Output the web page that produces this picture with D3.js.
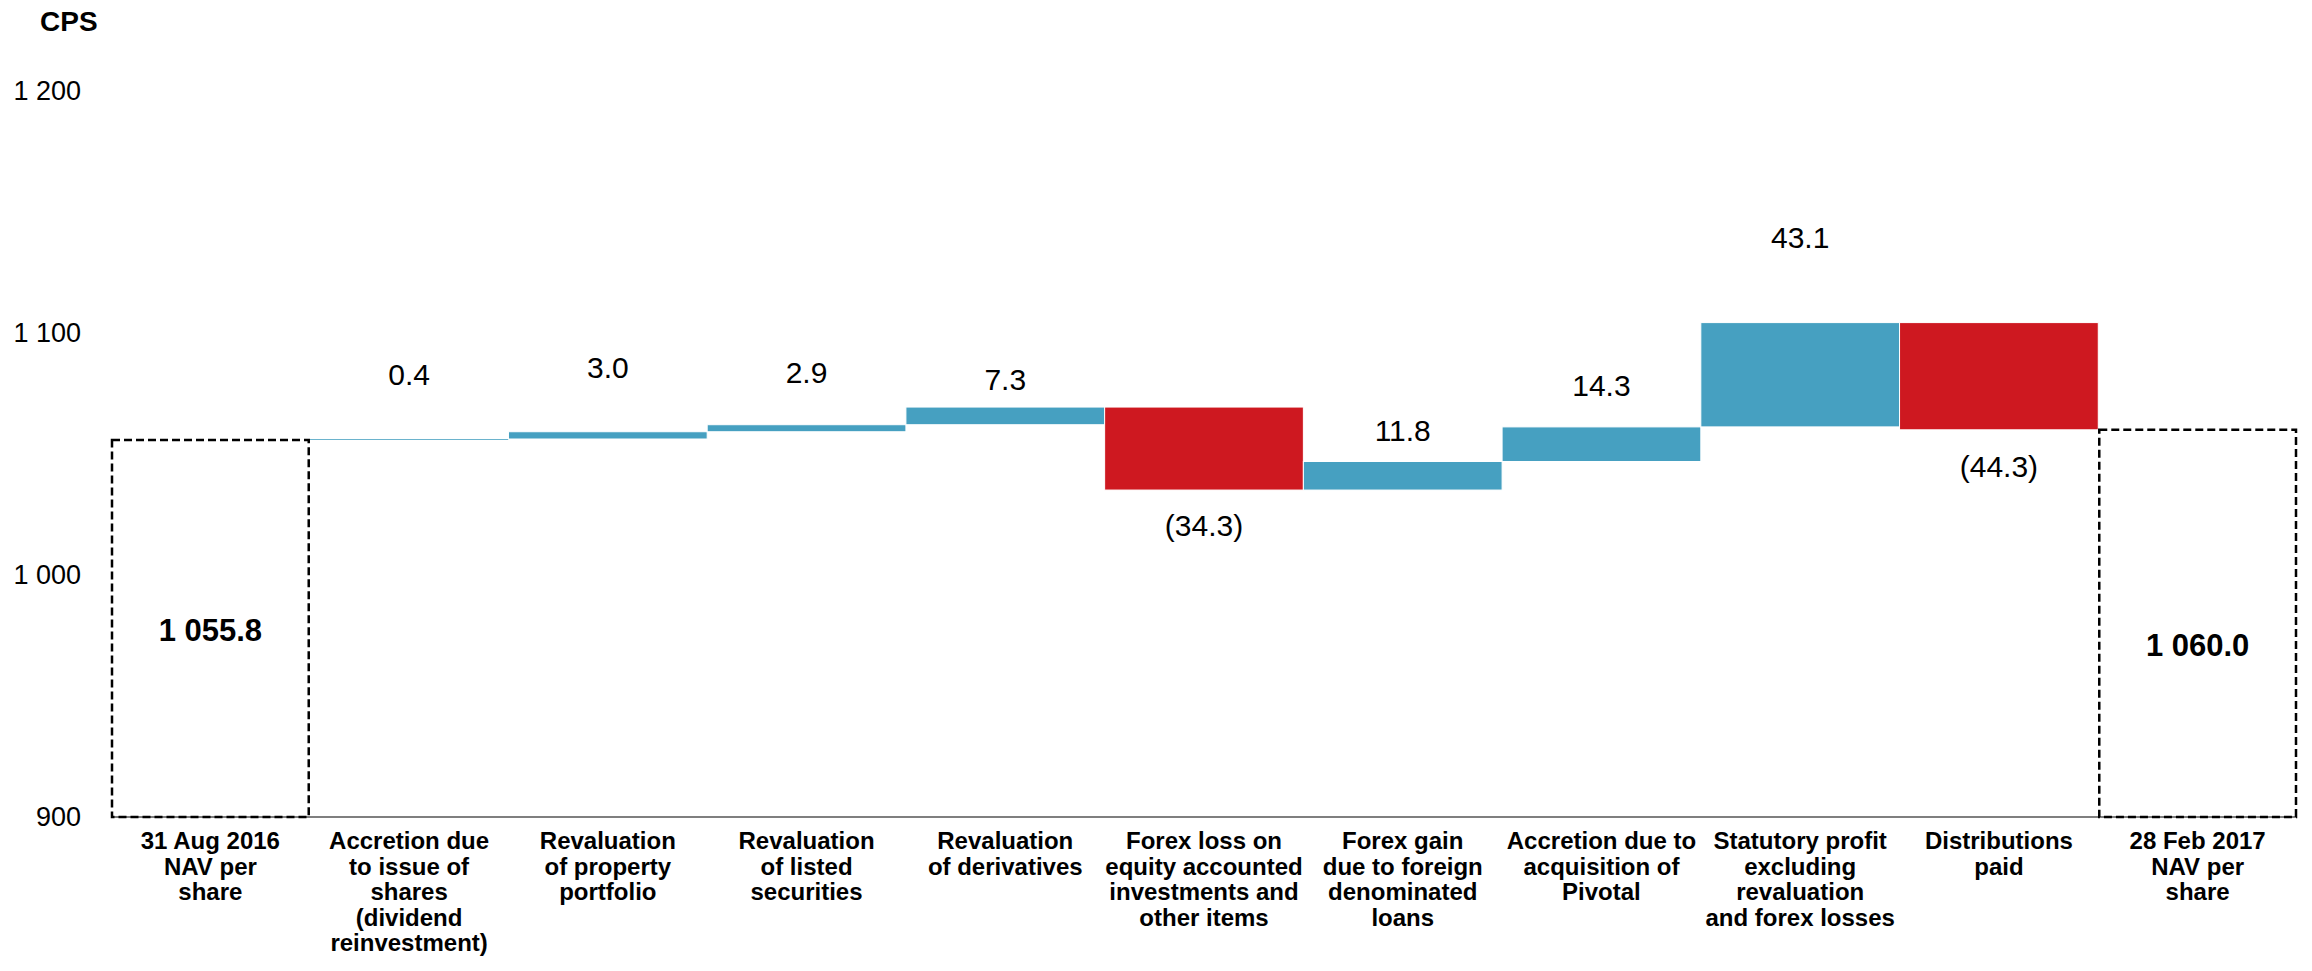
<!doctype html>
<html>
<head>
    <meta charset="utf-8"/>
    <style>
        html, body {
            margin: 0px;
            background: #fff;
        }
        svg {
            display: block;
            font-family: Arial, 'Liberation Sans', sans-serif;
        }
    </style>
    <script src="https://cdn.jsdelivr.net/npm/d3@7"></script>
</head>
<body>

<svg id="chart" width="2312" height="971"></svg>

<script>

    // --- DATA --- //
    var categories = [
        "31 Aug 2016\nNAV per\nshare",
        "Accretion due\nto issue of\nshares\n(dividend\nreinvestment)",
        "Revaluation\nof property\nportfolio",
        "Revaluation\nof listed\nsecurities",
        "Revaluation\nof derivatives",
        "Forex loss on\nequity accounted\ninvestments and\nother items",
        "Forex gain\ndue to foreign\ndenominated\nloans",
        "Accretion due to\nacquisition of\nPivotal",
        "Statutory profit\nexcluding\nrevaluation\nand forex losses",
        "Distributions\npaid",
        "28 Feb 2017\nNAV per\nshare"
    ];
    var openingNav = 1055.8;
    var movements = [0.4, 3.0, 2.9, 7.3, -34.3, 11.8, 14.3, 43.1, -44.3];
    var closingNav = 1060.0;
    var yTicks = [900, 1000, 1100, 1200];

    // label gaps from the bar edge (px), as placed by hand in the original
    var LABEL_GAP = [2, 64, 64, 52, 28, 35, 31, 41, 85, 37, 22];

    var BLUE = "#46a0c1";
    var RED = "#ce1820";

    var svg = d3.select("#chart");

    var x = d3.scaleBand()
        .domain(d3.range(categories.length))
        .range([111, 2297])
        .padding(0);
    var y = d3.scaleLinear().domain([900, 1200]).range([817, 91]);

    var locale = d3.formatLocale({decimal: ".", thousands: " ", grouping: [3], currency: ["", ""]});
    var fmtTick = locale.format(",.0f");
    var fmtTotal = locale.format(",.1f");
    var fmtMove = d3.format(".1f");

    // build waterfall steps
    var steps = [];
    var running = openingNav;
    steps.push({i: 0, type: "total", from: 900, to: openingNav, value: openingNav});
    movements.forEach(function(m, k) {
        steps.push({i: k + 1, type: m >= 0 ? "up" : "down", from: running, to: running + m, value: m});
        running += m;
    });
    steps.push({i: categories.length - 1, type: "total", from: 900, to: closingNav, value: closingNav});

    // --- AXIS TEXT --- //
    svg.append("text")
        .attr("x", 40)
        .attr("y", 31)
        .style("font-size", "28px")
        .style("font-weight", "bold")
        .text("CPS");

    svg.append("g").selectAll("text")
        .data(yTicks)
        .enter().append("text")
        .attr("x", 81)
        .attr("y", function(d) { return y(d); })
        .attr("dy", "0.35em")
        .attr("text-anchor", "end")
        .style("font-size", "27px")
        .text(function(d) { return fmtTick(d); });

    // baseline
    svg.append("line")
        .attr("x1", x(0))
        .attr("x2", x(categories.length - 1) + x.bandwidth())
        .attr("y1", y(900))
        .attr("y2", y(900))
        .attr("stroke", "#7f7f7f")
        .attr("stroke-width", 2);

    // --- BARS --- //
    var g = svg.append("g");

    g.selectAll("rect.move")
        .data(steps.filter(function(d) { return d.type !== "total"; }))
        .enter().append("rect")
        .attr("class", "move")
        .attr("x", function(d) { return x(d.i); })
        .attr("width", x.bandwidth())
        .attr("y", function(d) { return y(Math.max(d.from, d.to)); })
        .attr("height", function(d) { return Math.max(1, Math.abs(y(d.from) - y(d.to))); })
        .attr("fill", function(d) { return d.type === "up" ? BLUE : RED; })
        .attr("stroke", "#fff")
        .attr("stroke-width", function(d) { return Math.abs(d.value) < 1 ? 0 : 1; })
        .attr("fill-opacity", function(d) { return Math.abs(d.value) < 1 ? 0.8 : 1; });

    g.selectAll("rect.total")
        .data(steps.filter(function(d) { return d.type === "total"; }))
        .enter().append("rect")
        .attr("class", "total")
        .attr("x", function(d) { return x(d.i) + 1; })
        .attr("width", x.bandwidth() - 2)
        .attr("y", function(d) { return y(d.to); })
        .attr("height", function(d) { return y(d.from) - y(d.to); })
        .attr("fill", "none")
        .attr("stroke", "#000")
        .attr("stroke-width", 2.5)
        .attr("stroke-dasharray", "8,4");

    // --- VALUE LABELS --- //
    g.selectAll("text.val")
        .data(steps)
        .enter().append("text")
        .attr("class", "val")
        .attr("x", function(d) { return x(d.i) + x.bandwidth() / 2; })
        .attr("y", function(d) {
            var gap = LABEL_GAP[d.i];
            if (d.type === "total") return (y(d.from) + y(d.to)) / 2 + gap;
            if (d.type === "up") return y(d.to) - gap;
            return y(d.to) + gap;
        })
        .attr("dy", "0.35em")
        .attr("text-anchor", "middle")
        .style("font-size", function(d) { return d.type === "total" ? "31px" : "30px"; })
        .style("font-weight", function(d) { return d.type === "total" ? "bold" : "normal"; })
        .text(function(d) {
            if (d.type === "total") return fmtTotal(d.value);
            return d.value < 0 ? "(" + fmtMove(-d.value) + ")" : fmtMove(d.value);
        });

    // --- CATEGORY LABELS --- //
    var cat = svg.append("g").selectAll("text")
        .data(categories)
        .enter().append("text")
        .attr("x", function(d, i) { return x(i) + x.bandwidth() / 2; })
        .attr("y", 849)
        .attr("text-anchor", "middle")
        .style("font-size", "24px")
        .style("font-weight", "bold");

    cat.each(function(d, i) {
        var t = d3.select(this);
        var cx = x(i) + x.bandwidth() / 2;
        d.split("\n").forEach(function(line, j) {
            t.append("tspan")
                .attr("x", cx)
                .attr("dy", j === 0 ? 0 : 25.5)
                .text(line);
        });
    });

</script>

</body>
</html>
